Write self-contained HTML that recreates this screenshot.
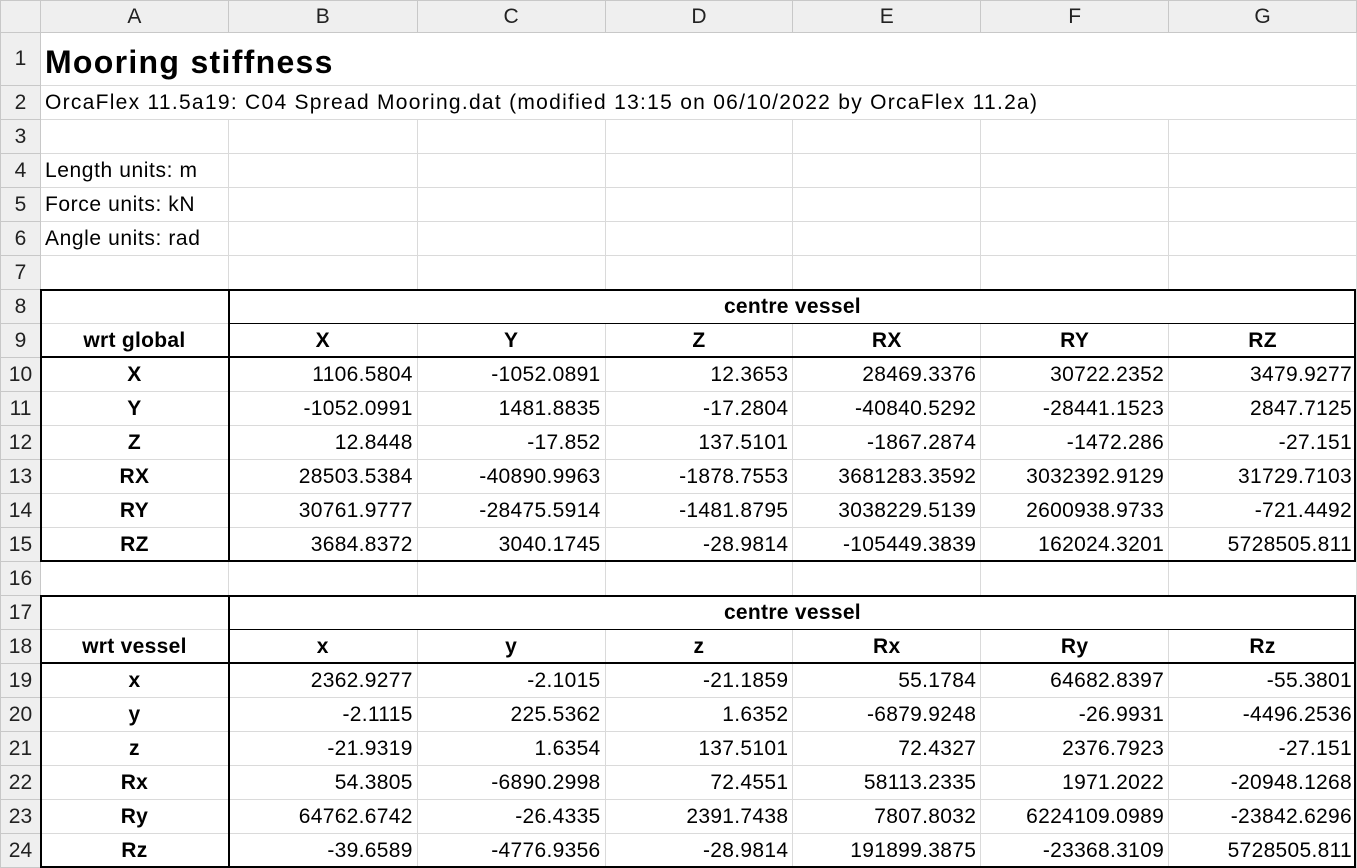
<!DOCTYPE html><html><head><style>
body{margin:0;width:1357px;height:868px;overflow:hidden;background:#fff;font-family:"Liberation Sans",Arial,sans-serif;}
table{border-collapse:collapse;table-layout:fixed;position:absolute;left:0;top:0;}
td{border:1px solid #dadada;padding:0 4px;font-size:21px;letter-spacing:0.6px;color:#000;white-space:nowrap;overflow:visible;height:34px;box-sizing:border-box;}
td.h{background:#efefef;text-align:center;color:#222;font-size:21px;letter-spacing:0;border-color:#c8c8c8;}
tr.hr td{height:32px;}
tr.r1 td{height:53px;}
td.n{text-align:right;letter-spacing:0.3px;}
td.c{text-align:center;font-weight:bold;letter-spacing:0.3px;}
.L{position:absolute;background:#000;}
</style></head><body>
<table>
<colgroup><col style="width:40px"><col style="width:188px"><col style="width:189px"><col style="width:188px"><col style="width:188px"><col style="width:188px"><col style="width:188px"><col style="width:188px"></colgroup>
<tr class="hr"><td class="h"></td><td class="h">A</td><td class="h">B</td><td class="h">C</td><td class="h">D</td><td class="h">E</td><td class="h">F</td><td class="h">G</td></tr>
<tr class="r1"><td class="h">1</td><td colspan="7" style="font-size:32px;font-weight:bold;letter-spacing:1.3px;padding-top:6px">Mooring stiffness</td></tr>
<tr><td class="h">2</td><td colspan="7" style="letter-spacing:1.28px">OrcaFlex 11.5a19: C04 Spread Mooring.dat (modified 13:15 on 06/10/2022 by OrcaFlex 11.2a)</td></tr>
<tr><td class="h">3</td><td></td><td></td><td></td><td></td><td></td><td></td><td></td></tr>
<tr><td class="h">4</td><td>Length units: m</td><td></td><td></td><td></td><td></td><td></td><td></td></tr>
<tr><td class="h">5</td><td>Force units: kN</td><td></td><td></td><td></td><td></td><td></td><td></td></tr>
<tr><td class="h">6</td><td>Angle units: rad</td><td></td><td></td><td></td><td></td><td></td><td></td></tr>
<tr><td class="h">7</td><td></td><td></td><td></td><td></td><td></td><td></td><td></td></tr>
<tr><td class="h">8</td><td></td><td colspan="6" class="c">centre vessel</td></tr>
<tr><td class="h">9</td><td class="c">wrt global</td><td class="c">X</td><td class="c">Y</td><td class="c">Z</td><td class="c">RX</td><td class="c">RY</td><td class="c">RZ</td></tr>
<tr><td class="h">10</td><td class="c">X</td><td class="n">1106.5804</td><td class="n">-1052.0891</td><td class="n">12.3653</td><td class="n">28469.3376</td><td class="n">30722.2352</td><td class="n">3479.9277</td></tr>
<tr><td class="h">11</td><td class="c">Y</td><td class="n">-1052.0991</td><td class="n">1481.8835</td><td class="n">-17.2804</td><td class="n">-40840.5292</td><td class="n">-28441.1523</td><td class="n">2847.7125</td></tr>
<tr><td class="h">12</td><td class="c">Z</td><td class="n">12.8448</td><td class="n">-17.852</td><td class="n">137.5101</td><td class="n">-1867.2874</td><td class="n">-1472.286</td><td class="n">-27.151</td></tr>
<tr><td class="h">13</td><td class="c">RX</td><td class="n">28503.5384</td><td class="n">-40890.9963</td><td class="n">-1878.7553</td><td class="n">3681283.3592</td><td class="n">3032392.9129</td><td class="n">31729.7103</td></tr>
<tr><td class="h">14</td><td class="c">RY</td><td class="n">30761.9777</td><td class="n">-28475.5914</td><td class="n">-1481.8795</td><td class="n">3038229.5139</td><td class="n">2600938.9733</td><td class="n">-721.4492</td></tr>
<tr><td class="h">15</td><td class="c">RZ</td><td class="n">3684.8372</td><td class="n">3040.1745</td><td class="n">-28.9814</td><td class="n">-105449.3839</td><td class="n">162024.3201</td><td class="n">5728505.811</td></tr>
<tr><td class="h">16</td><td></td><td></td><td></td><td></td><td></td><td></td><td></td></tr>
<tr><td class="h">17</td><td></td><td colspan="6" class="c">centre vessel</td></tr>
<tr><td class="h">18</td><td class="c">wrt vessel</td><td class="c">x</td><td class="c">y</td><td class="c">z</td><td class="c">Rx</td><td class="c">Ry</td><td class="c">Rz</td></tr>
<tr><td class="h">19</td><td class="c">x</td><td class="n">2362.9277</td><td class="n">-2.1015</td><td class="n">-21.1859</td><td class="n">55.1784</td><td class="n">64682.8397</td><td class="n">-55.3801</td></tr>
<tr><td class="h">20</td><td class="c">y</td><td class="n">-2.1115</td><td class="n">225.5362</td><td class="n">1.6352</td><td class="n">-6879.9248</td><td class="n">-26.9931</td><td class="n">-4496.2536</td></tr>
<tr><td class="h">21</td><td class="c">z</td><td class="n">-21.9319</td><td class="n">1.6354</td><td class="n">137.5101</td><td class="n">72.4327</td><td class="n">2376.7923</td><td class="n">-27.151</td></tr>
<tr><td class="h">22</td><td class="c">Rx</td><td class="n">54.3805</td><td class="n">-6890.2998</td><td class="n">72.4551</td><td class="n">58113.2335</td><td class="n">1971.2022</td><td class="n">-20948.1268</td></tr>
<tr><td class="h">23</td><td class="c">Ry</td><td class="n">64762.6742</td><td class="n">-26.4335</td><td class="n">2391.7438</td><td class="n">7807.8032</td><td class="n">6224109.0989</td><td class="n">-23842.6296</td></tr>
<tr><td class="h">24</td><td class="c">Rz</td><td class="n">-39.6589</td><td class="n">-4776.9356</td><td class="n">-28.9814</td><td class="n">191899.3875</td><td class="n">-23368.3109</td><td class="n">5728505.811</td></tr>
</table>
<div class="L" style="left:40px;top:289px;width:1316px;height:2px"></div>
<div class="L" style="left:228px;top:323px;width:1128px;height:1px"></div>
<div class="L" style="left:40px;top:356px;width:1316px;height:2px"></div>
<div class="L" style="left:40px;top:560px;width:1316px;height:2px"></div>
<div class="L" style="left:40px;top:289px;width:2px;height:273px"></div>
<div class="L" style="left:228px;top:289px;width:2px;height:273px"></div>
<div class="L" style="left:1354px;top:289px;width:2px;height:273px"></div>
<div class="L" style="left:40px;top:595px;width:1316px;height:2px"></div>
<div class="L" style="left:228px;top:629px;width:1128px;height:1px"></div>
<div class="L" style="left:40px;top:662px;width:1316px;height:2px"></div>
<div class="L" style="left:40px;top:866px;width:1316px;height:2px"></div>
<div class="L" style="left:40px;top:595px;width:2px;height:273px"></div>
<div class="L" style="left:228px;top:595px;width:2px;height:273px"></div>
<div class="L" style="left:1354px;top:595px;width:2px;height:273px"></div>
</body></html>
